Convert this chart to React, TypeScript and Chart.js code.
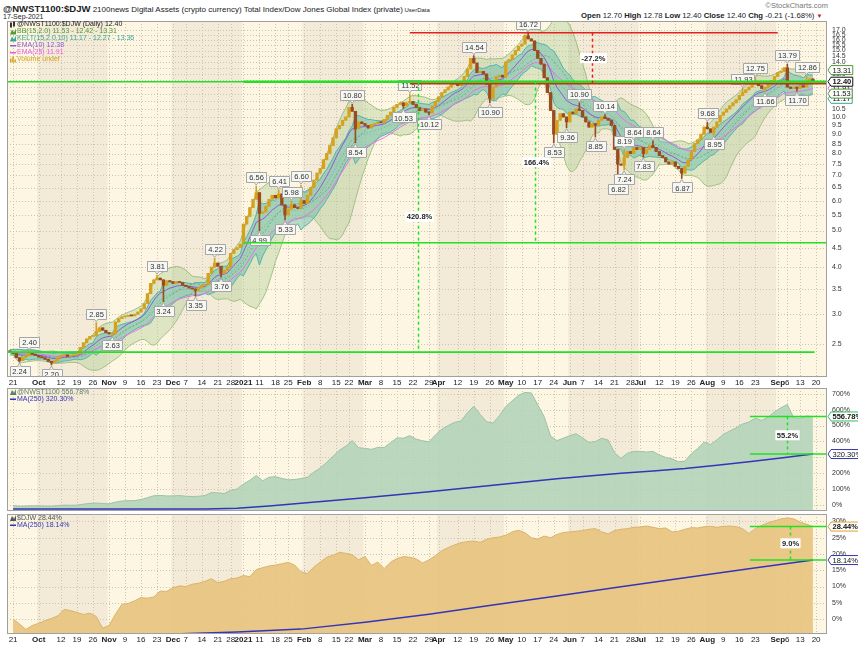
import React, { useEffect, useRef } from "react";
import { Chart, registerables } from "chart.js";
Chart.register(...registerables);

const FONT = "'Liberation Sans', Arial, sans-serif";

// ---------- DATA ----------
// daily closes, trading-day index -1 (18-Sep-2020) .. 250 (17-Sep-2021)
const FIRST_DAY = -1;
const FIRST_OPEN = 2.4;
const closes = [
  2.38, 2.36, 2.30, 2.26, 2.30, 2.33, 2.36, 2.35, 2.33, 2.31,
  2.30, 2.28, 2.25, 2.23, 2.26, 2.31, 2.33, 2.34, 2.32, 2.33,
  2.34, 2.36, 2.45, 2.52, 2.58, 2.62, 2.63, 2.70, 2.76, 2.72,
  2.68, 2.66, 2.66, 2.86, 2.92, 2.95, 2.96, 2.98, 2.97, 3.00,
  3.04, 3.10, 3.20, 3.40, 3.62, 3.70, 3.74, 3.70, 3.58, 3.68,
  3.66, 3.62, 3.66, 3.64, 3.58, 3.55, 3.52, 3.50, 3.47, 3.53,
  3.58, 3.60, 3.85, 4.00, 4.10, 4.02, 3.85, 3.92, 4.00, 4.35,
  4.45, 4.50, 4.60, 5.20, 5.45, 5.75, 6.05, 6.30, 5.55, 5.60,
  5.80, 6.05, 6.20, 6.10, 6.25, 5.85, 5.50, 5.70, 5.85, 5.75,
  5.72, 6.00, 5.90, 6.20, 6.50, 6.80, 7.10, 7.30, 7.70, 8.00,
  8.40, 8.80, 9.30, 9.50, 9.80, 10.00, 10.60, 10.35, 9.30, 9.70,
  9.60, 9.50, 9.35, 9.55, 9.60, 9.70, 9.65, 9.85, 10.10, 10.30,
  10.60, 10.80, 10.90, 10.70, 10.90, 11.00, 10.80, 10.60, 10.40, 10.50,
  10.30, 10.25, 10.70, 11.00, 11.30, 11.60, 11.80, 12.00, 12.20, 12.30,
  12.10, 12.40, 12.80, 13.40, 14.30, 13.90, 13.10, 13.20, 13.00, 12.20,
  11.20, 12.00, 12.80, 12.90, 12.75, 14.00, 14.20, 14.60, 15.00, 15.40,
  15.60, 16.40, 16.10, 15.90, 15.00, 14.30, 13.80, 12.70, 11.60, 10.40,
  9.00, 9.80, 10.20, 10.00, 9.70, 10.30, 10.20, 10.50, 10.40, 10.00,
  9.70, 9.40, 9.60, 9.50, 9.80, 10.00, 9.90, 9.80, 9.50, 8.20,
  7.50, 7.45, 7.80, 8.10, 8.00, 8.30, 8.20, 8.30, 8.00, 8.20,
  8.40, 8.30, 8.10, 7.90, 7.80, 7.60, 7.50, 7.60, 7.40, 7.30,
  7.10, 7.40, 7.70, 8.10, 8.50, 8.70, 9.00, 9.40, 9.30, 9.10,
  9.40, 9.70, 10.10, 10.30, 10.50, 10.70, 10.90, 11.10, 11.40, 11.60,
  11.80, 12.00, 12.20, 12.30, 12.10, 11.90, 12.00, 12.20, 12.50, 12.80,
  13.10, 13.20, 13.50, 12.00, 11.90, 12.00, 11.90, 12.10, 12.00, 12.40,
  12.61, 12.40,
];

// labelled highs / lows
const markDays = [2, 5, 12, 26, 31, 45, 47, 57, 63, 65, 76, 77, 83, 85, 87, 90, 106, 107, 122, 124, 130, 144, 149, 161, 169, 173, 177, 182, 185, 189, 191, 191, 194, 197, 200, 209, 217, 219, 228, 232, 235, 242, 245, 248];
const markValues = [2.24, 2.40, 2.20, 2.85, 2.63, 3.81, 3.24, 3.35, 4.22, 3.76, 6.56, 4.99, 6.41, 5.33, 5.98, 6.60, 10.80, 8.54, 10.53, 11.52, 10.12, 14.54, 10.90, 16.72, 8.53, 9.36, 10.90, 8.85, 10.14, 6.82, 7.24, 8.19, 8.64, 7.83, 8.64, 6.87, 9.68, 8.95, 11.93, 12.75, 11.66, 13.79, 11.70, 12.86];

// x axis
const tickDays = [0, 8, 15, 20, 25, 30, 35, 40, 45, 50, 54, 59, 64, 68, 72, 77, 82, 86, 91, 96, 101, 105, 110, 115, 120, 125, 130, 133, 139, 144, 149, 154, 159, 164, 169, 174, 178, 183, 188, 193, 196, 202, 207, 212, 217, 222, 227, 232, 239, 242, 246, 251];
const tickLabels = ["21", "Oct", "12", "19", "26", "Nov", "9", "16", "23", "Dec", "7", "14", "21", "28", "2021", "11", "18", "25", "Feb", "8", "15", "22", "Mar", "8", "15", "22", "29", "Apr", "12", "19", "26", "May", "10", "17", "24", "Jun", "7", "14", "21", "28", "Jul", "12", "19", "26", "Aug", "9", "16", "23", "Sep", "6", "13", "20"];
const monthStartDays = [8, 30, 50, 72, 91, 110, 133, 154, 174, 196, 217, 239];

// y ticks
const priceTicks = [2.5, 3.0, 3.5, 4.0, 4.5, 5.0, 5.5, 6.0, 6.5, 7.0, 7.5, 8.0, 8.5, 9.0, 9.5, 10.0, 10.5, 11.0, 11.5, 12.0, 12.5, 13.0, 13.5, 14.0, 14.5, 15.0, 15.5, 16.0, 16.5, 17.0];
const nwstTicks = [0, 100, 200, 300, 400, 500, 600, 700];
const djwTicks = [0, 5, 10, 15, 20, 25, 30];

// % change panels, every 2nd trading day from day 0
const PCT_STEP = 2;
const nwstPct = [
  -3, -8, -7, -5, -6, -7, -8, -4, -1, -2,
  -1, 5, 10, 12, 9, 7, 18, 25, 27, 28,
  34, 46, 58, 60, 57, 57, 59, 55, 53, 55,
  59, 78, 76, 72, 92, 100, 132, 155, 185, 152,
  174, 178, 167, 158, 160, 166, 174, 206, 232, 268,
  306, 344, 370, 405, 360, 356, 350, 362, 362, 392,
  422, 420, 436, 414, 404, 397, 440, 476, 500, 520,
  528, 580, 622, 570, 524, 515, 562, 620, 655, 690,
  708, 705, 630, 555, 434, 405, 420, 436, 448, 422,
  393, 399, 420, 408, 328, 293, 325, 337, 337, 333,
  337, 315, 299, 290, 272, 276, 322, 356, 395, 380,
  410, 444, 465, 485, 509, 522, 546, 532, 552, 586,
  612, 632, 548, 546, 560, 556.78,
];
const djwPct = [
  0.0, -1.5, -3.2, -2.0, -1.3, -0.5, 0.2, 1.0, 3.0, 2.6,
  2.0, 1.4, 1.8, 0.8, -2.8, -2.0, 1.5, 4.5, 4.8, 5.6,
  6.6, 6.4, 6.8, 8.6, 8.5, 9.6, 10.2, 10.0, 10.7, 11.0,
  11.6, 12.4, 11.2, 11.6, 12.4, 12.6, 13.4, 13.0, 15.2, 15.8,
  16.3, 16.6, 17.0, 17.4, 16.6, 14.5, 14.0, 16.0, 17.5, 19.0,
  19.6, 20.5, 20.2, 19.8, 18.2, 19.2, 16.5, 17.5, 15.5, 17.5,
  18.6, 19.2, 19.0, 18.5, 17.2, 18.2, 19.5, 21.0, 22.0, 22.8,
  23.5, 23.8, 24.0, 23.6, 24.5, 25.0, 25.2, 25.8, 26.8, 27.3,
  26.5, 25.0, 24.6, 25.5, 25.0, 26.0, 26.6, 26.8, 27.0, 27.2,
  27.6, 27.8, 26.8, 26.2, 27.2, 27.6, 27.8, 28.2, 28.3, 28.6,
  28.2, 27.8, 28.0, 26.8, 27.0, 27.6, 28.1, 28.0, 28.4, 28.5,
  28.2, 28.5, 28.6, 28.4, 27.8, 26.3, 27.8, 28.8, 29.6, 30.2,
  30.8, 31.1, 30.8, 29.8, 29.2, 28.44,
];
const nwstMaDays = [0, 40, 60, 70, 80, 90, 100, 110, 120, 130, 140, 150, 160, 170, 180, 190, 200, 210, 220, 230, 240, 250];
const nwstMa = [-26, -26, -25, -20, -6, 10, 28, 46, 64, 83, 103, 124, 145, 165, 183, 199, 213, 229, 250, 272, 295, 320.3];
const djwMaDays = [0, 25, 50, 70, 90, 110, 130, 150, 170, 190, 210, 230, 250];
const djwMa = [-8, -6.5, -4.6, -4.0, -3.1, -1.0, 1.5, 4.3, 7.1, 9.9, 12.7, 15.5, 18.14];

// drawn trend lines / measurements (values in data units)
const priceLevelValues = [12.4, 12.4, 12.25, 16.72, 4.64, 2.38];
const priceLevelFrom = [-2, 72, 124, 124, 72, -2];
const priceLevelTo = [255, 255, 255, 239, 255, 250.5];
const priceLevelRed = [false, false, true, true, false, false];
const priceMeasureDays = [126.6, 163, 181];
const priceMeasureTop = [12.4, 12.4, 16.72];
const priceMeasureBottom = [2.38, 4.64, 12.25];
const priceMeasureText = ["420.8%", "166.4%", "-27.2%"];

// ---------- helpers ----------
const X_MIN = -1.9;
const X_MAX = 254.4;
const days = closes.map((_, i) => FIRST_DAY + i);
const opens = closes.map((c, i) => (i === 0 ? FIRST_OPEN : closes[i - 1]));
const highs = closes.map((c, i) => {
  let h = Math.max(c, opens[i]);
  markDays.forEach((d, k) => { if (d === days[i] && markValues[k] > h) h = markValues[k]; });
  return h;
});
const lows = closes.map((c, i) => {
  let l = Math.min(c, opens[i]);
  markDays.forEach((d, k) => { if (d === days[i] && markValues[k] < l) l = markValues[k]; });
  return l;
});

function ema(arr: number[], n: number) {
  const k = 2 / (n + 1);
  let e = arr[0];
  return arr.map((v, i) => (e = i === 0 ? v : v * k + e * (1 - k)));
}
function sma(arr: number[], n: number) {
  return arr.map((_, i) => {
    const w = arr.slice(Math.max(0, i - n + 1), i + 1);
    return w.reduce((a, b) => a + b, 0) / w.length;
  });
}
const bbMid = sma(closes, 15);
const bbSd = closes.map((_, i) => {
  const w = closes.slice(Math.max(0, i - 14), i + 1);
  const m = bbMid[i];
  return Math.sqrt(w.reduce((a, b) => a + (b - m) * (b - m), 0) / w.length);
});
const bbUp = bbMid.map((m, i) => m + 2 * bbSd[i]);
const bbLo = bbMid.map((m, i) => m - 2 * bbSd[i]);
const tr = closes.map((c, i) => {
  const pc = i === 0 ? FIRST_OPEN : closes[i - 1];
  return Math.max(highs[i], pc) - Math.min(lows[i], pc);
});
const atr = ema(tr, 10);
const kMid = ema(closes, 15);
const kUp = kMid.map((m, i) => m + 2 * atr[i]);
const kLo = kMid.map((m, i) => m - 2 * atr[i]);
const ema10 = ema(closes, 10);
const ema25 = ema(closes, 25);

const pts = (arr: number[]) => arr.map((v, i) => ({ x: days[i], y: v }));

const isBold = (s: string) => !/^\d+$/.test(s) || s === "2021";

function xScale(show: boolean, h: number) {
  return {
    type: "linear",
    min: X_MIN,
    max: X_MAX,
    offset: false,
    display: show,
    grid: { display: false, drawTicks: false },
    border: { display: false },
    afterBuildTicks: (s: any) => { s.ticks = tickDays.map((v) => ({ value: v })); },
    afterFit: (s: any) => { s.height = h; s.paddingLeft = 0; s.paddingRight = 0; s.paddingTop = 0; s.paddingBottom = 0; },
    ticks: {
      autoSkip: false,
      maxRotation: 0,
      padding: 1,
      color: "#222",
      callback: (_v: any, i: number) => tickLabels[i],
      font: (c: any) => ({ size: 8, family: FONT, weight: isBold(tickLabels[c.index] || "") ? "bold" : "normal" }),
    },
  };
}

function yScale(type: string, min: number, max: number, ticks: number[], fmt: (v: number) => string) {
  return {
    type,
    position: "right",
    min,
    max,
    grid: { display: false, drawTicks: false },
    border: { display: false },
    afterBuildTicks: (s: any) => { s.ticks = ticks.map((v) => ({ value: v })); },
    afterFit: (s: any) => { s.width = 31; s.paddingTop = 0; s.paddingBottom = 0; s.paddingLeft = 0; s.paddingRight = 0; },
    ticks: { autoSkip: false, padding: 5, color: "#333", font: { size: 7, family: FONT }, callback: (v: any) => fmt(Number(v)) },
  };
}

function drawBackground(chart: any, yGrid: number[]) {
  const { ctx, chartArea: a, scales } = chart;
  const x = scales.x, y = scales.y;
  ctx.save();
  ctx.fillStyle = "#fdf6e3";
  ctx.fillRect(a.left, a.top, a.width, a.height);
  ctx.fillStyle = "#f3ebd8";
  for (let m = 0; m < monthStartDays.length; m += 2) {
    const x0 = Math.max(a.left, x.getPixelForValue(monthStartDays[m] - 0.5));
    const x1 = m + 1 < monthStartDays.length ? Math.min(a.right, x.getPixelForValue(monthStartDays[m + 1] - 0.5)) : a.right;
    ctx.fillRect(x0, a.top, x1 - x0, a.height);
  }
  ctx.strokeStyle = "#cdc4b0";
  ctx.lineWidth = 1;
  ctx.setLineDash([1, 2]);
  ctx.beginPath();
  tickDays.forEach((d) => {
    const px = Math.round(x.getPixelForValue(d)) + 0.5;
    if (px > a.left && px < a.right) { ctx.moveTo(px, a.top); ctx.lineTo(px, a.bottom); }
  });
  yGrid.forEach((v) => {
    const py = Math.round(y.getPixelForValue(v)) + 0.5;
    if (py > a.top && py < a.bottom) { ctx.moveTo(a.left, py); ctx.lineTo(a.right, py); }
  });
  ctx.stroke();
  ctx.restore();
}

function drawBorder(chart: any) {
  const { ctx, chartArea: a } = chart;
  ctx.save();
  ctx.strokeStyle = "#a0a0a0";
  ctx.lineWidth = 1;
  ctx.strokeRect(a.left + 0.5, a.top + 0.5, a.width - 1, a.height - 1);
  ctx.restore();
}

function valueBox(ctx: any, xl: number, yc: number, text: string, border: string, bold = false) {
  ctx.save();
  ctx.font = `${bold ? "bold " : ""}7.5px ${FONT}`;
  const w = ctx.measureText(text).width + 3;
  const h = 9;
  ctx.beginPath();
  ctx.moveTo(xl, yc);
  ctx.lineTo(xl + 3, yc - h / 2);
  ctx.lineTo(xl + 3 + w, yc - h / 2);
  ctx.lineTo(xl + 3 + w, yc + h / 2);
  ctx.lineTo(xl + 3, yc + h / 2);
  ctx.closePath();
  ctx.fillStyle = "#ffffff";
  ctx.fill();
  ctx.strokeStyle = border;
  ctx.lineWidth = 1;
  ctx.stroke();
  ctx.fillStyle = "#111";
  ctx.textBaseline = "middle";
  ctx.fillText(text, xl + 4.5, yc + 0.5);
  ctx.restore();
}

function markLabel(ctx: any, px: number, py: number, text: string, above: boolean) {
  ctx.save();
  ctx.font = `7.5px ${FONT}`;
  const w = ctx.measureText(text).width + 5;
  const h = 10;
  const by = above ? py - 4 - h : py + 4;
  ctx.fillStyle = "#f7f7f3";
  ctx.strokeStyle = "#a6a6a6";
  ctx.lineWidth = 1;
  ctx.beginPath();
  ctx.rect(Math.round(px - w / 2) + 0.5, Math.round(by) + 0.5, Math.round(w), h);
  ctx.fill();
  ctx.stroke();
  ctx.beginPath();
  if (above) { ctx.moveTo(px - 2, by + h + 0.5); ctx.lineTo(px, py - 1); ctx.lineTo(px + 2, by + h + 0.5); }
  else { ctx.moveTo(px - 2, by + 0.5); ctx.lineTo(px, py + 1); ctx.lineTo(px + 2, by + 0.5); }
  ctx.fill();
  ctx.stroke();
  ctx.fillStyle = "#333";
  ctx.textBaseline = "middle";
  ctx.textAlign = "center";
  ctx.fillText(text, Math.round(px) + 0.5, by + h / 2 + 1);
  ctx.restore();
}

function midLabel(ctx: any, px: number, py: number, text: string) {
  ctx.save();
  ctx.font = `bold 7.5px ${FONT}`;
  const w = ctx.measureText(text).width + 3;
  ctx.fillStyle = "#ffffff";
  ctx.fillRect(px - w / 2, py - 5, w, 10);
  ctx.fillStyle = "#222";
  ctx.textAlign = "center";
  ctx.textBaseline = "middle";
  ctx.fillText(text, px, py + 0.5);
  ctx.restore();
}

function legendLines(ctx: any, x: number, y0: number, step: number, items: { text: string; color: string; icon: string }[]) {
  ctx.save();
  ctx.font = `7px ${FONT}`;
  ctx.textBaseline = "middle";
  items.forEach((it, i) => {
    const y = y0 + i * step;
    ctx.fillStyle = it.color;
    ctx.strokeStyle = it.color;
    if (it.icon === "line") {
      ctx.fillRect(x, y - 0.5, 6, 1.5);
    } else if (it.icon === "mount") {
      ctx.beginPath();
      ctx.moveTo(x, y + 3); ctx.lineTo(x + 2, y - 2); ctx.lineTo(x + 4, y + 1); ctx.lineTo(x + 6, y - 3); ctx.lineTo(x + 6, y + 3);
      ctx.closePath(); ctx.fill();
    } else if (it.icon === "bars") {
      ctx.fillRect(x, y - 1, 1.5, 4); ctx.fillRect(x + 2.2, y - 3, 1.5, 6); ctx.fillRect(x + 4.4, y, 1.5, 3);
    } else if (it.icon === "candle") {
      ctx.fillStyle = "#333";
      ctx.fillRect(x, y - 2, 2, 5); ctx.fillRect(x + 3, y - 3, 2, 5);
    }
    ctx.fillStyle = it.color;
    ctx.fillText(it.text, x + 7, y);
  });
  ctx.restore();
}

// ---------- chart configs ----------
function priceConfig(): any {
  const colors = closes.map((c, i) => (c >= opens[i] ? "#d6a21c" : "#9b4b20"));
  const plugin = {
    id: "pricePanel",
    beforeDatasetsDraw: (chart: any) => drawBackground(chart, priceTicks),
    afterDatasetsDraw: (chart: any) => {
      const { ctx, chartArea: a, scales } = chart;
      const x = scales.x, y = scales.y;
      ctx.save();
      ctx.beginPath();
      ctx.rect(a.left, a.top, a.width, a.height);
      ctx.clip();
      markDays.forEach((d, k) => {
        const i = d - FIRST_DAY;
        const above = markValues[k] >= closes[i];
        markLabel(ctx, x.getPixelForValue(d), y.getPixelForValue(markValues[k]), markValues[k].toFixed(2), above);
      });
      ctx.restore();
      ctx.save();
      priceLevelValues.forEach((v, k) => {
        const py = y.getPixelForValue(v);
        ctx.strokeStyle = priceLevelRed[k] ? "#e4211c" : "#22e022";
        ctx.lineWidth = k === 1 ? 2.5 : 1.6;
        ctx.beginPath();
        ctx.moveTo(Math.max(a.left, x.getPixelForValue(priceLevelFrom[k])), py);
        ctx.lineTo(Math.min(a.right, x.getPixelForValue(priceLevelTo[k])), py);
        ctx.stroke();
      });
      priceMeasureDays.forEach((d, k) => {
        const px = Math.round(x.getPixelForValue(d)) + 0.5;
        const y0 = y.getPixelForValue(priceMeasureTop[k]);
        const y1 = y.getPixelForValue(priceMeasureBottom[k]);
        ctx.strokeStyle = k === 2 ? "#e4211c" : "#22e022";
        ctx.lineWidth = 1.5;
        ctx.setLineDash([3, 3]);
        ctx.beginPath();
        ctx.moveTo(px, y0);
        ctx.lineTo(px, y1);
        ctx.stroke();
        ctx.setLineDash([]);
        midLabel(ctx, px + 1, (y0 + y1) / 2, priceMeasureText[k]);
      });
      ctx.restore();
    },
    afterDraw: (chart: any) => {
      const { ctx, chartArea: a, scales } = chart;
      const y = scales.y;
      drawBorder(chart);
      legendLines(ctx, a.left + 3, a.top + 3.5, 7, [
        { text: "@NWST1100:$DJW (Daily) 12.40", color: "#222", icon: "candle" },
        { text: "BB(15,2.0) 11.53 - 12.42 - 13.31", color: "#4f9a33", icon: "mount" },
        { text: "KELT(15,2.0,10) 11.17 - 12.27 - 13.36", color: "#3aa596", icon: "mount" },
        { text: "EMA(10) 12.38", color: "#8d5ad6", icon: "line" },
        { text: "EMA(25) 11.91", color: "#e65ee6", icon: "line" },
        { text: "Volume undef", color: "#d4a017", icon: "bars" },
      ]);
      const xl = a.right + 1;
      valueBox(ctx, xl, y.getPixelForValue(11.91), "11.91", "#e65ee6");
      valueBox(ctx, xl, y.getPixelForValue(11.17), "11.17", "#3aa596");
      valueBox(ctx, xl, y.getPixelForValue(11.53), "11.53", "#4f9a33");
      valueBox(ctx, xl, y.getPixelForValue(13.31), "13.31", "#4f9a33");
      valueBox(ctx, xl, y.getPixelForValue(12.4), "12.40", "#111", true);
    },
  };
  return {
    type: "line",
    data: {
      datasets: [
        { type: "bar", label: "body", data: days.map((d, i) => ({ x: d, y: [opens[i], closes[i]] })), backgroundColor: colors, barThickness: 2.7, minBarLength: 1, grouped: false, borderWidth: 0, order: 0 },
        { type: "bar", label: "wick", data: days.map((d, i) => ({ x: d, y: [lows[i], highs[i]] })), backgroundColor: colors, barThickness: 1, grouped: false, borderWidth: 0, order: 1 },
        { label: "EMA(10)", data: pts(ema10), borderColor: "#8d5ad6", borderWidth: 1, pointRadius: 0, fill: false, order: 2 },
        { label: "EMA(25)", data: pts(ema25), borderColor: "#ea6fea", borderWidth: 1, pointRadius: 0, fill: false, order: 3 },
        { label: "BBmid", data: pts(bbMid), borderColor: "rgba(70,140,110,0.55)", borderDash: [2, 2], borderWidth: 1, pointRadius: 0, fill: false, order: 4 },
        { label: "KELTmid", data: pts(kMid), borderColor: "rgba(60,150,140,0.55)", borderDash: [1, 2], borderWidth: 1, pointRadius: 0, fill: false, order: 5 },
        { label: "KELTup", data: pts(kUp), borderColor: "#55b3a8", borderWidth: 1, pointRadius: 0, fill: "+1", backgroundColor: "rgba(96,186,168,0.46)", order: 6 },
        { label: "KELTlo", data: pts(kLo), borderColor: "#55b3a8", borderWidth: 1, pointRadius: 0, fill: false, order: 7 },
        { label: "BBup", data: pts(bbUp), borderColor: "rgba(150,185,120,0.9)", borderWidth: 1, pointRadius: 0, fill: "+1", backgroundColor: "rgba(176,205,150,0.42)", order: 8 },
        { label: "BBlo", data: pts(bbLo), borderColor: "rgba(150,185,120,0.9)", borderWidth: 1, pointRadius: 0, fill: false, order: 9 },
      ],
    },
    options: {
      responsive: false,
      animation: false,
      events: [],
      layout: { padding: { left: 7, top: 1, right: 0, bottom: 0 } },
      plugins: { legend: { display: false }, tooltip: { enabled: false } },
      scales: {
        x: xScale(true, 15),
        y: yScale("logarithmic", 2.045, 17.96, priceTicks, (v) => v.toFixed(1)),
      },
    },
    plugins: [plugin],
  };
}

function pctConfig(opts: {
  values: number[]; maDays: number[]; ma: number[]; min: number; max: number; ticks: number[];
  fill: string; line: string; showX: boolean; padBottom: number; xH: number;
  legend: { text: string; color: string; icon: string }[];
  hiVal: number; loVal: number; hiText: string; loText: string; hiBorder: string; measureDay: number; measureText: string;
}): any {
  const levelFrom = 230.3;
  const plugin = {
    id: "pctPanel",
    beforeDatasetsDraw: (chart: any) => drawBackground(chart, opts.ticks),
    afterDatasetsDraw: (chart: any) => {
      const { ctx, chartArea: a, scales } = chart;
      const x = scales.x, y = scales.y;
      ctx.save();
      ctx.strokeStyle = "#22e022";
      ctx.lineWidth = 1.6;
      [opts.hiVal, opts.loVal].forEach((v) => {
        const py = y.getPixelForValue(v);
        ctx.beginPath();
        ctx.moveTo(x.getPixelForValue(levelFrom), py);
        ctx.lineTo(a.right, py);
        ctx.stroke();
      });
      const px = Math.round(x.getPixelForValue(opts.measureDay)) + 0.5;
      const y0 = y.getPixelForValue(opts.hiVal), y1 = y.getPixelForValue(opts.loVal);
      ctx.lineWidth = 1.5;
      ctx.setLineDash([3, 3]);
      ctx.beginPath();
      ctx.moveTo(px, y0);
      ctx.lineTo(px, y1);
      ctx.stroke();
      ctx.setLineDash([]);
      midLabel(ctx, px, (y0 + y1) / 2, opts.measureText);
      ctx.restore();
    },
    afterDraw: (chart: any) => {
      const { ctx, chartArea: a, scales } = chart;
      const y = scales.y;
      drawBorder(chart);
      legendLines(ctx, a.left + 3, a.top + 4, 7, opts.legend);
      valueBox(ctx, a.right + 1, y.getPixelForValue(opts.loVal), opts.loText, "#3535b0");
      valueBox(ctx, a.right + 1, y.getPixelForValue(opts.hiVal), opts.hiText, opts.hiBorder, true);
    },
  };
  return {
    type: "line",
    data: {
      datasets: [
        { label: "MA", data: opts.maDays.map((d, i) => ({ x: d, y: opts.ma[i] })), borderColor: "#3434b8", borderWidth: 1.5, pointRadius: 0, fill: false, order: 0 },
        { label: "pct", data: opts.values.map((v, i) => ({ x: i * PCT_STEP, y: v })), borderColor: opts.line, borderWidth: 1, pointRadius: 0, fill: "start", backgroundColor: opts.fill, order: 1 },
      ],
    },
    options: {
      responsive: false,
      animation: false,
      events: [],
      layout: { padding: { left: 7, top: 2, right: 0, bottom: opts.padBottom } },
      plugins: { legend: { display: false }, tooltip: { enabled: false } },
      scales: {
        x: xScale(opts.showX, opts.xH),
        y: yScale("linear", opts.min, opts.max, opts.ticks, (v) => `${v}%`),
      },
    },
    plugins: [plugin],
  };
}

export default function App() {
  const r1 = useRef<HTMLCanvasElement>(null);
  const r2 = useRef<HTMLCanvasElement>(null);
  const r3 = useRef<HTMLCanvasElement>(null);
  useEffect(() => {
    Chart.defaults.font.family = FONT;
    const c1 = new Chart(r1.current as HTMLCanvasElement, priceConfig());
    const c2 = new Chart(r2.current as HTMLCanvasElement, pctConfig({
      values: nwstPct, maDays: nwstMaDays, ma: nwstMa, min: -38, max: 736, ticks: nwstTicks,
      fill: "rgba(178,212,186,0.88)", line: "#9cc3a6", showX: false, padBottom: 2, xH: 0,
      legend: [
        { text: "@NWST1100 556.78%", color: "#5d7f68", icon: "mount" },
        { text: "MA(250) 320.30%", color: "#3434b8", icon: "line" },
      ],
      hiVal: 556.78, loVal: 320.3, hiText: "556.78%", loText: "320.30%", hiBorder: "#2fbf5f", measureDay: 242, measureText: "55.2%",
    }));
    const c3 = new Chart(r3.current as HTMLCanvasElement, pctConfig({
      values: djwPct, maDays: djwMaDays, ma: djwMa, min: -4.6, max: 32.3, ticks: djwTicks,
      fill: "rgba(232,196,128,0.92)", line: "#d9b46a", showX: true, padBottom: 0, xH: 14,
      legend: [
        { text: "$DJW 28.44%", color: "#555", icon: "mount" },
        { text: "MA(250) 18.14%", color: "#3434b8", icon: "line" },
      ],
      hiVal: 28.44, loVal: 18.14, hiText: "28.44%", loText: "18.14%", hiBorder: "#e0a030", measureDay: 242.8, measureText: "9.0%",
    }));
    return () => { c1.destroy(); c2.destroy(); c3.destroy(); };
  }, []);

  return (
    <div style={{ position: "fixed", left: 0, top: 0, width: 858, height: 648, background: "#fff", overflow: "hidden", fontFamily: FONT, color: "#222" }}>
      <div style={{ position: "absolute", left: 3, top: 0, whiteSpace: "nowrap", lineHeight: "13px" }}>
        <span style={{ fontWeight: "bold", fontSize: 9.5 }}>@NWST1100:$DJW</span>
        <span style={{ fontSize: 8 }}> 2100news Digital Assets (crypto currency) Total Index/Dow Jones Global Index (private)</span>
        <span style={{ fontSize: 6 }}> UserData</span>
      </div>
      <div style={{ position: "absolute", left: 3, top: 12, fontSize: 7, lineHeight: "9px" }}>17-Sep-2021</div>
      <div style={{ position: "absolute", right: 30, top: 1, fontSize: 7.5, color: "#777", lineHeight: "9px" }}>©StockCharts.com</div>
      <div style={{ position: "absolute", left: 581, top: 11, fontSize: 7.7, lineHeight: "9px", whiteSpace: "nowrap" }}>
        <b>Open</b> 12.70 <b>High</b> 12.78 <b>Low</b> 12.40 <b>Close</b> 12.40 <b>Chg</b> -0.21 (-1.68%) <span style={{ color: "#c0202a", fontSize: 6 }}>▼</span>
      </div>
      <canvas ref={r1} width={858} height={372} style={{ position: "absolute", left: 0, top: 20, width: 858, height: 372 }} />
      <canvas ref={r2} width={858} height={127} style={{ position: "absolute", left: 0, top: 386, width: 858, height: 127 }} />
      <canvas ref={r3} width={858} height={136} style={{ position: "absolute", left: 0, top: 512, width: 858, height: 136 }} />
    </div>
  );
}
